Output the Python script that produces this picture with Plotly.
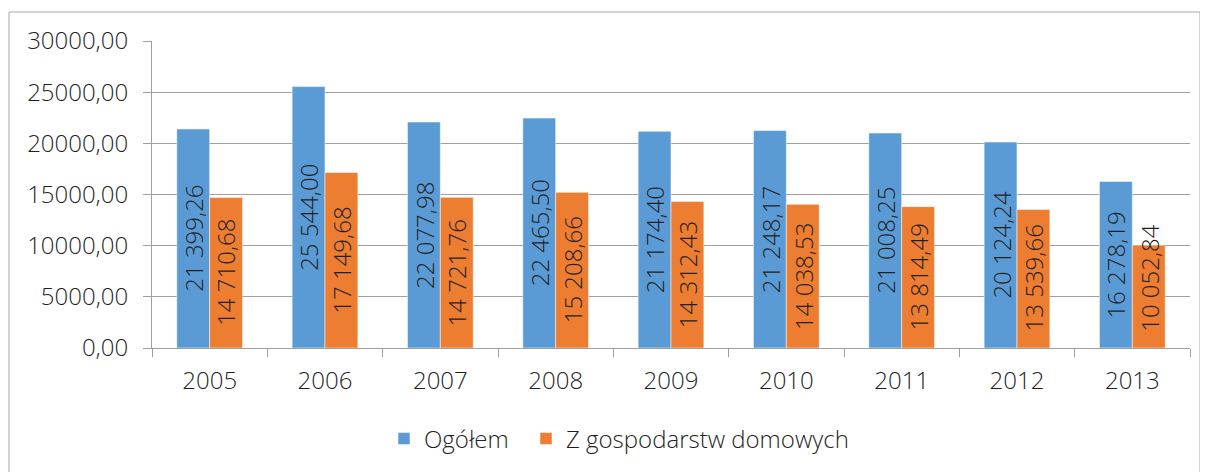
import plotly.graph_objects as go

years = ["2005", "2006", "2007", "2008", "2009", "2010", "2011", "2012", "2013"]
ogolem = [21399.26, 25544.00, 22077.98, 22465.50, 21174.40, 21248.17, 21008.25, 20124.24, 16278.19]
gospodarstwa = [14710.68, 17149.68, 14721.76, 15208.66, 14312.43, 14038.53, 13814.49, 13539.66, 10052.84]
series_names = ["Ogółem", "Z gospodarstw domowych"]
colors = ["#5B9BD5", "#ED7D31"]
y_ticks = [0, 5000, 10000, 15000, 20000, 25000, 30000]

FONT = "Open Sans"
FS = 24
WEIGHT = 300
TXT = "#1F1F1F"
GRID = "#A0A0A0"
YMAX = 30000
BARGAP = 0.43

OFF = 8  # page body margin
W, H = 1208 - OFF, 472 - OFF
# plot area in screenshot coordinates
PL, PR, PT, PB = 152, 1190, 41, 348
L, R, T, B = PL - OFF, W - (PR - OFF), PT - OFF, H - (PB - OFF)
pw, ph = W - L - R, H - T - B

def px_x(x):
    return (x - OFF - L) / pw

def px_y(y):
    return (H - B - (y - OFF)) / ph

def fmt(v):
    return f"{v:,.2f}".replace(",", " ").replace(".", ",")

fig = go.Figure()
legend_ids = ["legend", "legend2"]
for name, vals, col, lg in zip(series_names, [ogolem, gospodarstwa], colors, legend_ids):
    fig.add_trace(go.Bar(
        x=years, y=vals, name=name, legend=lg,
        marker=dict(color=col, line=dict(color="rgba(255,255,255,0.5)", width=1)),
    ))

# vertical data labels, centred in each bar, kept above the axis if too long
units_per_px = YMAX / ph
label_half_px = 52
label_pad_px = 18
min_center = (label_half_px + label_pad_px) * units_per_px
bar_w_px = pw / len(years) * (1 - BARGAP) / 2
annotations = []
for si, vals in enumerate([ogolem, gospodarstwa]):
    shift = (si - 0.5) * bar_w_px
    for ci, v in enumerate(vals):
        annotations.append(dict(
            x=ci, y=max(v / 2, min_center), xref="x", yref="y",
            text=fmt(v), showarrow=False, textangle=-90,
            xshift=shift, xanchor="center", yanchor="middle",
            font=dict(family=FONT, size=FS, color=TXT, weight=WEIGHT),
        ))

leg_font = dict(family=FONT, size=FS, color=TXT, weight=WEIGHT)
fig.update_layout(
    width=W, height=H,
    margin=dict(l=L, r=R, t=T, b=B, autoexpand=False),
    paper_bgcolor="white", plot_bgcolor="white",
    separators=", ",
    barmode="group", bargap=BARGAP, bargroupgap=0,
    font=dict(family=FONT, size=FS, color=TXT, weight=WEIGHT),
    showlegend=True,
    legend=dict(
        orientation="h", x=px_x(384), xanchor="left", y=px_y(439), yanchor="middle",
        font=leg_font, itemwidth=30, bgcolor="rgba(0,0,0,0)",
    ),
    legend2=dict(
        orientation="h", x=px_x(526), xanchor="left", y=px_y(439), yanchor="middle",
        font=leg_font, itemwidth=30, bgcolor="rgba(0,0,0,0)",
    ),
    xaxis=dict(
        type="category", range=[-0.5, len(years) - 0.5],
        categoryorder="array", categoryarray=years,
        showgrid=False, showline=True, linecolor=GRID, linewidth=1,
        ticks="outside", tickson="boundaries", ticklen=8, tickcolor=GRID,
        tickfont=dict(family=FONT, size=FS, color=TXT, weight=WEIGHT), ticklabelstandoff=11,
        tickangle=0,
    ),
    yaxis=dict(
        range=[0, YMAX], tickvals=y_ticks, tickformat=".2f",
        showgrid=True, gridcolor=GRID, gridwidth=1,
        showline=True, linecolor=GRID, linewidth=1,
        ticks="outside", ticklen=8, tickcolor=GRID,
        zeroline=False,
        tickfont=dict(family=FONT, size=FS, color=TXT, weight=WEIGHT), ticklabelstandoff=10,
    ),
    annotations=annotations,
    shapes=[dict(
        type="rect", xref="paper", yref="paper",
        x0=px_x(9), x1=px_x(1200), y0=px_y(490), y1=px_y(12),
        line=dict(color="#A6A6A6", width=1), fillcolor="rgba(0,0,0,0)", layer="below",
    )],
)

fig.write_html("out.html")
